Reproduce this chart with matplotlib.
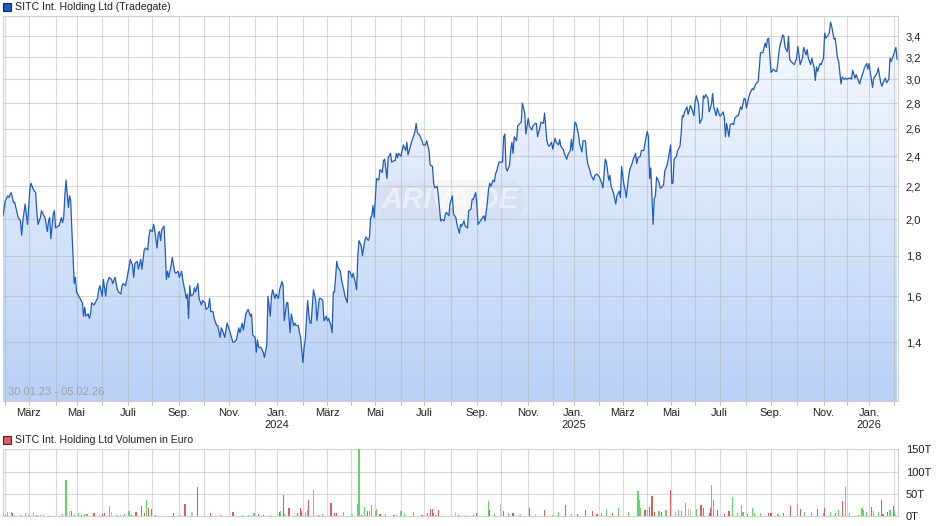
import numpy as np
import pandas as pd
import matplotlib
matplotlib.use("Agg")
import matplotlib.pyplot as plt
from matplotlib.patches import Rectangle
from matplotlib.colors import LinearSegmentedColormap
from matplotlib.ticker import NullLocator, FuncFormatter

plt.rcParams['font.family'] = ['Liberation Sans', 'DejaVu Sans']

# Tradegate sessions 30.01.23 - 05.02.26 (weekdays without exchange holidays)
holidays = ['2023-04-07', '2023-04-10', '2023-05-01', '2023-12-25', '2023-12-26',
            '2024-01-01', '2024-03-29', '2024-04-01', '2024-05-01', '2024-12-24',
            '2024-12-25', '2024-12-26', '2024-12-31', '2025-01-01', '2025-04-18',
            '2025-04-21', '2025-05-01', '2025-12-24', '2025-12-25', '2025-12-26',
            '2025-12-31', '2026-01-01']
days = pd.bdate_range('2023-01-30', '2026-02-05')
days = days[~days.isin(pd.to_datetime(holidays))]

# closing prices in EUR (session = trading day number since 30.01.23)
session = [
    0, 2, 4, 5, 7, 9, 10, 12, 13, 15, 16, 17, 19, 21, 23,
    24, 26, 28, 29, 30, 32, 33, 35, 36, 38, 39, 40, 41, 43, 44,
    45, 47, 48, 50, 51, 52, 53, 54, 56, 57, 58, 59, 60, 61, 62,
    63, 65, 66, 68, 69, 70, 71, 73, 74, 75, 76, 78, 79, 81, 82,
    83, 85, 86, 88, 89, 91, 93, 94, 96, 98, 99, 101, 102, 103, 105,
    106, 108, 109, 111, 112, 113, 115, 116, 118, 119, 121, 122, 124, 125, 126,
    128, 129, 130, 132, 133, 134, 135, 136, 138, 139, 140, 141, 142, 144, 145,
    147, 148, 150, 151, 153, 154, 155, 157, 158, 159, 160, 161, 163, 164, 165,
    167, 168, 170, 171, 173, 174, 176, 177, 178, 180, 181, 183, 184, 186, 187,
    188, 190, 192, 194, 197, 198, 200, 202, 203, 205, 206, 208, 210, 212, 213,
    214, 216, 217, 218, 219, 221, 223, 224, 226, 227, 229, 230, 231, 233, 234,
    236, 237, 239, 240, 241, 243, 244, 246, 247, 249, 250, 251, 253, 254, 255,
    257, 258, 259, 261, 262, 263, 264, 266, 268, 269, 271, 272, 274, 275, 277,
    278, 279, 281, 282, 283, 284, 286, 287, 289, 290, 292, 293, 295, 296, 297,
    299, 300, 302, 303, 304, 305, 307, 308, 310, 311, 313, 314, 315, 316, 317,
    318, 319, 320, 322, 323, 325, 326, 327, 329, 330, 332, 333, 335, 336, 337,
    338, 339, 341, 342, 343, 345, 346, 347, 349, 350, 352, 353, 354, 355, 357,
    359, 360, 362, 363, 365, 366, 368, 369, 370, 372, 373, 375, 376, 378, 379,
    380, 382, 383, 385, 386, 388, 389, 391, 392, 393, 395, 396, 398, 399, 401,
    402, 403, 405, 406, 407, 409, 411, 412, 413, 415, 416, 417, 418, 420, 421,
    422, 423, 425, 426, 428, 429, 430, 431, 432, 434, 435, 436, 437, 438, 440,
    441, 443, 444, 445, 447, 448, 450, 451, 453, 454, 456, 457, 458, 460, 461,
    463, 464, 466, 467, 468, 470, 471, 473, 474, 476, 477, 478, 480, 481, 483,
    484, 486, 487, 488, 490, 491, 493, 494, 496, 497, 499, 500, 501, 503, 504,
    506, 507, 509, 510, 511, 513, 514, 516, 517, 519, 520, 521, 523, 525, 526,
    528, 529, 530, 532, 533, 534, 536, 537, 539, 540, 542, 543, 544, 546, 547,
    549, 550, 552, 553, 554, 555, 557, 558, 559, 560, 562, 563, 564, 566, 567,
    569, 570, 572, 573, 574, 575, 577, 578, 580, 581, 582, 583, 584, 586, 587,
    589, 590, 592, 593, 594, 596, 597, 599, 600, 601, 602, 604, 605, 607, 608,
    609, 611, 612, 614, 615, 617, 618, 619, 620, 622, 623, 625, 626, 627, 629,
    630, 632, 633, 635, 636, 637, 639, 640, 642, 643, 645, 646, 647, 648, 649,
    651, 653, 654, 655, 656, 658, 659, 660, 662, 663, 665, 666, 668, 669, 670,
    672, 673, 674, 675, 677, 678, 680, 681, 682, 683, 685, 686, 688, 689, 690,
    692, 693, 695, 696, 697, 698, 700, 701, 703, 704, 705, 707, 708, 709, 710,
    712, 713, 715, 716, 718, 719, 721, 722, 723, 725, 726, 727, 728, 730, 731,
    732, 734, 735, 737, 738, 740, 741, 742, 743, 745, 746, 747, 749, 750, 752,
    753, 754, 756, 757, 759, 760, 761, 762, 763, 765, 766,
]
close = [
    2.02, 2.11, 2.14, 2.13, 2.16, 2.10, 2.10, 2.04, 2.01, 1.99, 1.91, 1.99, 2.09, 1.97, 2.18,
    2.22, 2.18, 2.16, 2.04, 1.97, 2.01, 2.05, 2.02, 2.01, 1.93, 1.99, 2.01, 1.89, 2.03, 2.05,
    1.95, 1.96, 1.96, 2.01, 1.98, 2.01, 2.14, 2.24, 2.07, 2.14, 2.11, 1.94, 1.80, 1.66, 1.69,
    1.62, 1.60, 1.59, 1.57, 1.51, 1.55, 1.51, 1.52, 1.50, 1.52, 1.57, 1.56, 1.57, 1.59, 1.63,
    1.65, 1.60, 1.68, 1.60, 1.66, 1.69, 1.68, 1.66, 1.69, 1.63, 1.62, 1.61, 1.65, 1.66, 1.65,
    1.68, 1.74, 1.78, 1.75, 1.69, 1.76, 1.77, 1.73, 1.78, 1.73, 1.83, 1.84, 1.83, 1.90, 1.94,
    1.93, 1.97, 1.94, 1.84, 1.92, 1.93, 1.88, 1.94, 1.96, 1.83, 1.68, 1.72, 1.69, 1.75, 1.79,
    1.72, 1.71, 1.72, 1.69, 1.72, 1.68, 1.65, 1.59, 1.61, 1.50, 1.65, 1.60, 1.61, 1.64, 1.62,
    1.66, 1.59, 1.56, 1.58, 1.57, 1.54, 1.55, 1.59, 1.53, 1.53, 1.50, 1.47, 1.47, 1.42, 1.46,
    1.45, 1.42, 1.48, 1.45, 1.40, 1.40, 1.41, 1.46, 1.44, 1.48, 1.45, 1.52, 1.54, 1.51, 1.52,
    1.43, 1.42, 1.36, 1.41, 1.38, 1.38, 1.36, 1.34, 1.39, 1.60, 1.51, 1.60, 1.63, 1.59, 1.61,
    1.59, 1.63, 1.67, 1.65, 1.49, 1.57, 1.57, 1.44, 1.52, 1.47, 1.48, 1.47, 1.47, 1.44, 1.42,
    1.32, 1.38, 1.41, 1.58, 1.52, 1.48, 1.48, 1.63, 1.58, 1.49, 1.59, 1.59, 1.58, 1.49, 1.51,
    1.49, 1.50, 1.47, 1.44, 1.62, 1.62, 1.77, 1.74, 1.72, 1.68, 1.63, 1.60, 1.57, 1.72, 1.72,
    1.69, 1.71, 1.66, 1.63, 1.80, 1.88, 1.85, 1.80, 1.88, 1.90, 1.88, 1.90, 2.01, 2.02, 2.08,
    2.01, 2.12, 2.25, 2.24, 2.31, 2.29, 2.37, 2.38, 2.25, 2.39, 2.42, 2.36, 2.37, 2.37, 2.42,
    2.39, 2.42, 2.40, 2.44, 2.48, 2.44, 2.50, 2.41, 2.47, 2.50, 2.55, 2.58, 2.64, 2.57, 2.55,
    2.51, 2.48, 2.48, 2.51, 2.44, 2.34, 2.33, 2.22, 2.19, 2.20, 2.14, 1.99, 2.00, 1.99, 2.03,
    2.04, 2.02, 2.09, 2.14, 2.03, 2.01, 1.97, 1.92, 1.97, 1.96, 1.99, 1.96, 1.95, 2.05, 2.06,
    2.12, 2.12, 2.16, 2.09, 1.97, 1.99, 2.01, 2.02, 1.99, 2.10, 2.18, 2.22, 2.20, 2.24, 2.23,
    2.28, 2.30, 2.36, 2.36, 2.36, 2.54, 2.56, 2.32, 2.30, 2.34, 2.44, 2.50, 2.42, 2.54, 2.51,
    2.62, 2.64, 2.65, 2.80, 2.72, 2.56, 2.68, 2.62, 2.59, 2.62, 2.64, 2.64, 2.54, 2.61, 2.65,
    2.64, 2.72, 2.51, 2.48, 2.47, 2.50, 2.45, 2.53, 2.50, 2.48, 2.52, 2.47, 2.45, 2.42, 2.38,
    2.41, 2.44, 2.52, 2.44, 2.65, 2.64, 2.56, 2.49, 2.43, 2.51, 2.51, 2.41, 2.35, 2.30, 2.27,
    2.24, 2.27, 2.28, 2.27, 2.26, 2.22, 2.19, 2.38, 2.36, 2.24, 2.27, 2.20, 2.16, 2.09, 2.14,
    2.17, 2.13, 2.33, 2.21, 2.18, 2.13, 2.26, 2.31, 2.35, 2.38, 2.42, 2.35, 2.39, 2.40, 2.44,
    2.44, 2.49, 2.58, 2.54, 2.25, 2.32, 1.97, 2.12, 2.14, 2.26, 2.23, 2.19, 2.19, 2.21, 2.30,
    2.34, 2.38, 2.48, 2.22, 2.22, 2.38, 2.40, 2.44, 2.47, 2.56, 2.70, 2.69, 2.73, 2.77, 2.71,
    2.78, 2.76, 2.70, 2.81, 2.86, 2.79, 2.64, 2.68, 2.86, 2.84, 2.87, 2.84, 2.73, 2.79, 2.88,
    2.77, 2.70, 2.76, 2.70, 2.70, 2.73, 2.69, 2.54, 2.64, 2.54, 2.63, 2.64, 2.63, 2.68, 2.70,
    2.70, 2.77, 2.75, 2.84, 2.83, 2.76, 2.85, 2.88, 2.92, 2.91, 2.96, 2.97, 2.98, 3.10, 3.24,
    3.24, 3.33, 3.29, 3.37, 3.38, 3.06, 3.07, 3.09, 3.07, 3.07, 3.26, 3.32, 3.41, 3.40, 3.29,
    3.25, 3.40, 3.18, 3.16, 3.14, 3.13, 3.19, 3.30, 3.22, 3.13, 3.19, 3.29, 3.22, 3.27, 3.19,
    3.13, 3.19, 3.10, 2.99, 3.11, 3.07, 3.14, 3.13, 3.19, 3.43, 3.38, 3.41, 3.43, 3.54, 3.50,
    3.37, 3.38, 3.19, 3.16, 2.96, 3.02, 3.00, 3.01, 3.00, 3.01, 3.01, 3.00, 3.08, 3.01, 3.04,
    3.01, 2.96, 3.00, 3.06, 3.10, 3.14, 3.09, 3.14, 3.07, 2.93, 3.01, 3.02, 3.06, 3.10, 2.97,
    2.94, 2.97, 3.01, 2.97, 3.00, 3.19, 3.16, 3.19, 3.22, 3.29, 3.18,
]

# daily turnover in thousand EUR (T), direction 1 = up, -1 = down, 0 = unchanged
vol_session = [
    0, 2, 4, 7, 8, 10, 15, 19, 22, 26, 29, 32, 35, 40, 49,
    51, 54, 57, 59, 61, 65, 67, 70, 72, 78, 83, 85, 87, 91, 93,
    97, 101, 104, 108, 110, 114, 119, 121, 123, 125, 127, 131, 146, 152, 156,
    162, 167, 178, 186, 197, 205, 210, 215, 219, 223, 229, 237, 238, 240, 241,
    245, 250, 252, 255, 256, 259, 261, 262, 266, 270, 274, 281, 284, 286, 292,
    299, 304, 305, 307, 310, 312, 314, 316, 319, 320, 323, 328, 335, 337, 341,
    344, 352, 359, 364, 366, 368, 369, 371, 373, 388, 390, 396, 403, 406, 416,
    417, 421, 426, 429, 433, 437, 443, 451, 456, 464, 471, 476, 482, 487, 492,
    499, 505, 509, 513, 517, 522, 527, 536, 544, 545, 546, 550, 552, 554, 556,
    558, 562, 564, 568, 572, 576, 579, 581, 585, 587, 589, 594, 598, 600, 605,
    606, 607, 609, 612, 618, 622, 625, 629, 633, 634, 638, 642, 644, 649, 656,
    658, 664, 669, 675, 681, 683, 687, 693, 698, 703, 704, 709, 713, 716, 719,
    722, 725, 733, 736, 737, 740, 744, 746, 750, 753, 754, 758, 760, 763, 764,
    765,
]
vol_keur = [
    8, 3, 10, 10, 8, 3, 3, 7, 3, 10, 3, 3, 5, 3, 3,
    5, 81, 12, 12, 3, 7, 3, 5, 5, 7, 3, 5, 7, 23, 10,
    3, 3, 6, 12, 3, 10, 23, 7, 37, 19, 16, 3, 7, 3, 28,
    10, 66, 7, 3, 10, 3, 3, 7, 6, 3, 3, 10, 12, 48, 5,
    19, 3, 7, 19, 12, 10, 14, 37, 59, 3, 5, 30, 7, 7, 10,
    5, 28, 160, 3, 21, 12, 12, 25, 12, 16, 5, 5, 3, 5, 12,
    5, 10, 3, 7, 16, 16, 7, 3, 14, 10, 3, 3, 3, 7, 34,
    14, 5, 28, 12, 7, 7, 5, 19, 5, 14, 3, 10, 25, 5, 5,
    14, 12, 5, 7, 16, 7, 19, 10, 57, 37, 19, 14, 14, 21, 46,
    10, 12, 10, 14, 59, 10, 14, 12, 30, 19, 16, 16, 25, 19, 7,
    19, 70, 37, 14, 5, 12, 43, 7, 25, 10, 5, 19, 7, 7, 7,
    7, 5, 7, 23, 28, 16, 10, 10, 16, 7, 19, 10, 7, 14, 34,
    66, 7, 3, 19, 14, 10, 21, 12, 10, 37, 5, 10, 14, 23, 12,
    3,
]
vol_move = [
    1, -1, 1, 1, -1, 0, -1, 1, 1, 0, -1, 1, 0, 0, 0,
    1, 1, 0, -1, -1, 1, -1, 1, 1, -1, 1, -1, -1, 1, 0,
    -1, 1, 1, 1, -1, -1, -1, -1, 1, -1, -1, -1, -1, 1, -1,
    0, -1, -1, -1, -1, 1, 1, 1, -1, -1, 1, -1, 1, -1, 1,
    -1, 0, -1, -1, -1, 1, 1, -1, 1, -1, 1, -1, -1, -1, 1,
    0, 1, 1, -1, 1, -1, 1, 1, 1, 1, -1, 1, -1, 0, 1,
    1, 1, -1, -1, -1, -1, -1, 1, -1, 0, -1, 1, -1, -1, 1,
    -1, 1, 0, -1, 1, -1, 0, -1, 0, -1, 1, 1, -1, 1, -1,
    -1, -1, -1, 1, 1, -1, 1, 1, 1, 1, 1, -1, 1, -1, -1,
    -1, 1, -1, 1, -1, 1, 1, 1, 1, 0, 0, 1, -1, -1, -1,
    -1, 1, 1, -1, -1, -1, 1, 1, 1, 1, -1, 1, 1, 1, -1,
    -1, 1, -1, -1, 1, -1, 1, 1, -1, 1, -1, 1, -1, 1, -1,
    1, 1, -1, 1, 1, 1, -1, 1, 1, -1, -1, -1, 1, -1, 1,
    1,
]

assert len(session) == len(close)
assert len(vol_session) == len(vol_keur) == len(vol_move)

month_names = {1: 'Jan.', 3: 'März', 5: 'Mai', 7: 'Juli', 9: 'Sep.', 11: 'Nov.'}
month_first = [i for i in range(1, len(days)) if days[i].month != days[i - 1].month]
month_labels = []
for i in month_first:
    lab = month_names.get(days[i].month, '')
    if days[i].month == 1:
        lab += '\n' + str(days[i].year)
    month_labels.append(lab)

W, H = 940, 526
fig = plt.figure(figsize=(W / 100, H / 100), dpi=100)


def box(l, t, r, b):
    return [l / W, 1 - b / H, (r - l) / W, (b - t) / H]


ax = fig.add_axes(box(3, 16, 897.5, 401.3))
axv = fig.add_axes(box(3, 449.3, 897.5, 516.3))
xmax = len(days) - 0.6
grid_kw = dict(color='#b2b2b2', alpha=0.5, lw=0.8)

# --- price panel ---
ax.set_yscale('log')
poly = ax.fill_between(session, close, 1.0, color='none', lw=0)
cmap = LinearSegmentedColormap.from_list('fill', ['#f8fbff', '#b9d1f6'])
grad = np.linspace(0, 1, 256).reshape(-1, 1)
im = ax.imshow(grad, cmap=cmap, aspect='auto', extent=(0, 1, 0, 1),
               transform=ax.transAxes, zorder=1, interpolation='bilinear')
im.set_clip_path(poly.get_paths()[0], transform=ax.transData)
ax.plot(session, close, color='#1f5cc2', lw=0.9, zorder=4)
ax.set_xlim(0, xmax)
ax.set_ylim(1.18, 3.604)

yt = [1.4, 1.6, 1.8, 2.0, 2.2, 2.4, 2.6, 2.8, 3.0, 3.2, 3.4]
ax.yaxis.tick_right()
ax.set_yticks(yt)
ax.yaxis.set_minor_locator(NullLocator())
ax.yaxis.set_major_formatter(FuncFormatter(lambda v, p: f'{v:.1f}'.replace('.', ',')))
ax.set_xticks(month_first)
ax.set_xticklabels(month_labels)
ax.tick_params(axis='y', length=0, pad=6, labelsize=8, labelcolor='#222222')
ax.tick_params(axis='x', length=3, color='#bbbbbb', pad=2, labelsize=8, labelcolor='#222222')
ax.grid(True, **grid_kw)
for sp in ax.spines.values():
    sp.set_color('#d0d0d0')
    sp.set_linewidth(0.8)

ax.text(0.5, 0.5225, 'ARIVA.DE', transform=ax.transAxes, ha='center', va='center',
        fontsize=21, style='italic', weight='bold', color='white', alpha=0.5, zorder=3,
        bbox=dict(boxstyle='round,pad=0.2,rounding_size=0.7', fc='#c9cdd6', ec='none', alpha=0.2))
ax.text(0.0056, 0.012, '30.01.23 - 05.02.26', transform=ax.transAxes, ha='left', va='bottom',
        fontsize=8, color='#a0a0a0', zorder=5)

# --- volume panel ---
vcol = {1: '#5ed85e', -1: '#e05c5c', 0: '#c4c4c4'}
axv.bar(vol_session, vol_keur, width=1.0, color=[vcol[m] for m in vol_move], lw=0,
        antialiased=False, zorder=3)
axv.set_xlim(0, xmax)
axv.set_ylim(0, 150)
axv.yaxis.tick_right()
axv.set_yticks([0, 50, 100, 150])
axv.set_yticklabels(['0T', '50T', '100T', '150T'])
axv.set_xticks(month_first)
axv.set_xticklabels([])
axv.tick_params(axis='y', length=0, pad=6, labelsize=8, labelcolor='#222222')
axv.tick_params(axis='x', length=0)
axv.grid(True, **grid_kw)
for sp in axv.spines.values():
    sp.set_color('#d0d0d0')
    sp.set_linewidth(0.8)

# legend boxes
fig.add_artist(Rectangle((3 / W, 1 - 11 / H), 8 / W, 8 / H, transform=fig.transFigure,
                         facecolor='#1f5cc2', edgecolor='#0b2a66', lw=0.8))
fig.text(15 / W, 1 - 6.5 / H, 'SITC Int. Holding Ltd (Tradegate)', va='center', ha='left',
         fontsize=7.6, color='#222222')
fig.add_artist(Rectangle((3 / W, 1 - 444 / H), 8 / W, 8 / H, transform=fig.transFigure,
                         facecolor='#e05c5c', edgecolor='#333333', lw=0.8))
fig.text(15 / W, 1 - 440 / H, 'SITC Int. Holding Ltd Volumen in Euro', va='center', ha='left',
         fontsize=7.6, color='#222222')

fig.savefig('out.png', dpi=100)
